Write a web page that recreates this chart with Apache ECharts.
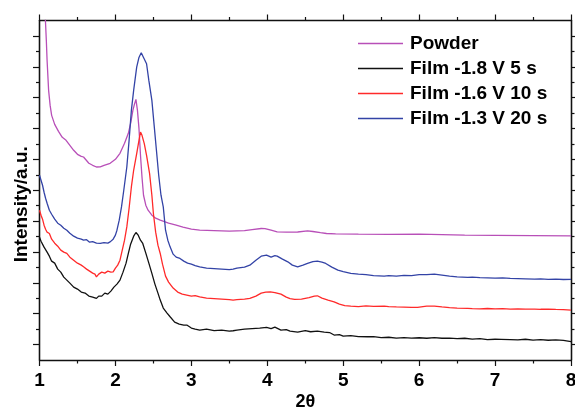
<!DOCTYPE html>
<html>
<head>
<meta charset="utf-8">
<script src="https://cdn.jsdelivr.net/npm/echarts@6/dist/echarts.min.js"></script>
<style>
html,body{margin:0;padding:0;background:#fff;}
#c{width:575px;height:407px;}
</style>
</head>
<body>
<div id="c"></div>
<script>
// ---- data (2θ, intensity in a.u.) ----
const seriesNames = ['Powder', 'Film -1.8 V 5 s', 'Film -1.6 V 10 s', 'Film -1.3 V 20 s'];
const xTicks = [1, 2, 3, 4, 5, 6, 7, 8];
const yMajorTicks = [1, 3, 5, 7, 9, 11, 13, 15, 17, 19, 21];
const yMinorTicks = [2, 4, 6, 8, 10, 12, 14, 16, 18, 20];

const powder = [
[1.075,345],[1.09,320],[1.10,300],[1.12,270],[1.14,255],[1.16,245],[1.20,236],[1.25,229],[1.30,223],[1.35,220],
[1.40,215],[1.45,210],[1.50,206],[1.55,204],[1.58,203.3],[1.65,197],[1.70,195],[1.75,193.3],[1.80,193.5],[1.85,195],
[1.93,197],[2.00,201],[2.06,207],[2.12,217],[2.17,227],[2.20,237],[2.23,250],[2.25,256],[2.27,261],[2.29,250],
[2.31,232],[2.33,205],[2.35,183],[2.37,165],[2.40,155],[2.43,150],[2.48,145],[2.53,142],[2.59,140],[2.70,137],
[2.80,135],[2.89,133],[3.00,131],[3.11,130],[3.30,129.5],[3.50,129],[3.70,129.5],[3.80,130.5],[3.92,131.7],[3.97,131.5],
[4.05,130],[4.13,128.3],[4.25,128],[4.40,128.2],[4.53,129.3],[4.60,128.7],[4.70,127.5],[4.78,126.7],[4.90,126.3],[5.20,126],
[5.60,125.8],[6.00,126],[6.30,125.5],[6.60,125],[7.00,124.8],[7.50,124.5],[8.00,124.3]
];

const film18 = [
[1.00,123],[1.02,119],[1.04,117],[1.06,113],[1.08,111],[1.10,108],[1.13,104],[1.16,99],[1.20,97],[1.24,91],
[1.28,88],[1.32,83],[1.36,80],[1.40,77],[1.45,73],[1.50,71],[1.55,68],[1.60,67],[1.65,64],[1.70,63],
[1.75,61.7],[1.78,64],[1.82,64],[1.86,67],[1.90,66],[1.94,69],[1.98,73],[2.02,76],[2.06,80],[2.10,88],
[2.14,97],[2.17,106.7],[2.20,116],[2.24,124],[2.27,127.7],[2.30,125],[2.33,120],[2.36,116.7],[2.40,107],[2.44,97],
[2.48,86.7],[2.52,76],[2.56,67],[2.59,60],[2.63,52],[2.68,47],[2.72,43.3],[2.78,38],[2.84,36],[2.90,35],
[2.94,35],[3.00,32],[3.05,31],[3.11,30],[3.20,31],[3.30,29.5],[3.40,30],[3.50,29],[3.55,29.3],[3.60,30],
[3.70,31],[3.80,31.5],[3.90,32],[3.99,32.7],[4.05,31.5],[4.10,33],[4.18,30],[4.25,30.5],[4.30,29],[4.40,28],
[4.50,29.5],[4.57,28.3],[4.66,29],[4.75,28],[4.82,27.5],[4.88,25],[4.95,25.5],[5.00,24],[5.10,24.5],[5.20,23.5],
[5.32,23.3],[5.40,23.5],[5.50,22.5],[5.60,22.8],[5.70,22],[5.80,22.5],[5.90,22],[6.00,22.3],[6.10,21.8],[6.20,22.5],
[6.30,21.8],[6.40,22],[6.50,21.5],[6.60,21.8],[6.70,21],[6.80,21.5],[6.90,20.5],[7.00,20.8],[7.08,20.7],[7.20,20.5],
[7.30,20.2],[7.40,20.8],[7.50,20],[7.60,20.4],[7.70,19.8],[7.80,20.2],[7.90,19.6],[8.00,18.3]
];

const film16 = [
[1.00,150],[1.02,145],[1.04,141],[1.06,135],[1.08,131],[1.10,128],[1.13,126.7],[1.16,121],[1.20,117],[1.24,114],
[1.28,110],[1.32,108],[1.36,106.7],[1.40,103],[1.45,100],[1.50,97],[1.55,95],[1.58,93.3],[1.62,91],[1.66,89],
[1.70,87],[1.73,86],[1.75,83.3],[1.78,86],[1.82,88],[1.86,87],[1.90,89],[1.94,88],[1.97,88.3],[2.00,92],
[2.03,95],[2.06,100],[2.09,110],[2.12,120],[2.15,133.3],[2.18,152],[2.21,173.3],[2.24,190],[2.28,206.7],[2.31,220],
[2.33,228.3],[2.35,225],[2.38,216.7],[2.41,205],[2.45,186.7],[2.48,165],[2.50,146.7],[2.53,128],[2.56,115],[2.59,106.7],
[2.62,96],[2.66,84],[2.70,78],[2.72,76.7],[2.76,72],[2.82,68],[2.88,66],[2.94,65],[3.00,64],[3.05,64.5],
[3.11,63.3],[3.20,62],[3.30,61.5],[3.40,61],[3.50,60.5],[3.55,60],[3.60,60.5],[3.70,61],[3.77,61.7],[3.85,64],
[3.92,67],[3.98,68],[4.04,68.3],[4.10,67.5],[4.18,66],[4.25,63],[4.30,61.5],[4.36,60.7],[4.45,61],[4.55,62.5],
[4.62,64],[4.66,64.3],[4.72,62],[4.80,60],[4.88,58.3],[4.95,56],[5.02,54.5],[5.10,54],[5.20,53.5],[5.30,54.2],
[5.40,53.8],[5.54,54],[5.60,53.5],[5.70,53.2],[5.80,53],[5.90,52.8],[5.98,52.7],[6.05,53.5],[6.10,54],[6.20,54],
[6.30,53.2],[6.40,52.5],[6.50,52],[6.64,51.7],[6.70,51.5],[6.80,51.3],[6.90,51.6],[7.00,51.2],[7.10,51.4],[7.20,51],
[7.30,51.3],[7.40,51],[7.52,51],[7.60,50.8],[7.70,51],[7.80,50.6],[7.90,50.5],[8.00,50]
];

const film13 = [
[1.00,185],[1.02,180],[1.04,175],[1.06,168],[1.08,162],[1.10,157],[1.13,150],[1.16,146],[1.20,141],[1.24,137],
[1.28,135],[1.32,132],[1.36,130],[1.40,127],[1.45,124],[1.50,122],[1.55,121],[1.58,120],[1.62,120.5],[1.66,118],
[1.70,118.5],[1.75,117],[1.80,116.7],[1.85,117.5],[1.90,117],[1.93,118.3],[1.97,121],[2.00,125],[2.02,130],[2.05,140],
[2.08,153.3],[2.11,170],[2.15,193.3],[2.18,220],[2.21,250],[2.24,270],[2.28,293.3],[2.31,303],[2.34,307.7],[2.37,303],
[2.41,296.7],[2.44,280],[2.48,260],[2.51,235],[2.54,210],[2.57,185],[2.60,165],[2.63,153.3],[2.66,130],[2.69,120],
[2.72,113.3],[2.76,106],[2.80,103],[2.85,101.7],[2.90,99],[2.95,97],[3.00,96],[3.05,94.5],[3.11,93.3],[3.20,92],
[3.30,91.5],[3.40,91],[3.50,90.5],[3.55,91],[3.60,92],[3.70,93],[3.77,95],[3.85,100],[3.92,104],[3.99,105],
[4.05,103],[4.10,104.5],[4.13,104],[4.20,101],[4.27,98.3],[4.33,95],[4.40,93.3],[4.47,95],[4.53,96.7],[4.60,98.5],
[4.66,99],[4.72,98],[4.77,96.7],[4.85,93],[4.93,90],[5.00,88.5],[5.10,86.7],[5.20,86],[5.30,85.5],[5.40,84.5],
[5.54,84],[5.60,84.5],[5.70,84],[5.80,84.8],[5.90,84.5],[6.00,85.5],[6.10,85.5],[6.20,86],[6.30,85],[6.40,84],
[6.50,83.2],[6.64,82.7],[6.70,83],[6.80,82.5],[6.90,82.3],[7.00,82],[7.10,82.2],[7.20,81.7],[7.30,81.5],[7.40,81.3],
[7.52,81],[7.60,81.2],[7.70,80.8],[7.80,81],[7.90,80.6],[8.00,80.7]
];

// ---- chart ----
const Y_MAX = 340;
const Y_STEP = Y_MAX / 22;
const FONT = '"Liberation Sans", Arial, sans-serif';
const colors = ['#b84fb8', '#111111', '#ff2a2a', '#3343a6'];
const axisLineStyle = { color: '#111', width: 1.3 };

const chart = echarts.init(document.getElementById('c'), null, { renderer: 'canvas' });

function xAx(pos, labels) {
  return {
    type: 'value', position: pos, min: xTicks[0], max: xTicks[xTicks.length - 1], interval: 1,
    axisLine: { show: true, onZero: false, lineStyle: axisLineStyle },
    axisTick: { show: true, length: 6, lineStyle: { color: '#111', width: 1.2 } },
    minorTick: { show: true, splitNumber: 2, length: 3.5, lineStyle: { color: '#111', width: 1.2 } },
    splitLine: { show: false }, minorSplitLine: { show: false },
    axisLabel: { show: labels, margin: 11, color: '#000', fontSize: 19, fontWeight: 'bold', fontFamily: FONT },
    name: labels ? '2θ' : '', nameLocation: 'middle', nameGap: 33, nameMoveOverlap: false,
    nameTextStyle: { color: '#000', fontSize: 18, fontWeight: 'bold', fontFamily: FONT }
  };
}
function yAx(pos, ticks, len, withName) {
  return {
    type: 'value', position: pos, min: 0, max: Y_MAX,
    axisLine: { show: true, onZero: false, lineStyle: axisLineStyle },
    axisTick: { show: true, length: len, customValues: ticks.map(k => k * Y_STEP), lineStyle: { color: '#111', width: 1.2 } },
    axisLabel: { show: false },
    splitLine: { show: false },
    name: withName ? 'Intensity/a.u.' : '', nameLocation: 'middle', nameGap: 8, nameMoveOverlap: false,
    nameTextStyle: { color: '#000', fontSize: 19, fontWeight: 'bold', fontFamily: FONT, padding: [0, 28, 0, 0] }
  };
}

const datasets = [powder, film18, film16, film13];

chart.setOption({
  animation: false,
  backgroundColor: '#fff',
  grid: { left: 39.5, right: 4, top: 20.5, bottom: 47, containLabel: false, outerBoundsMode: 'none' },
  legend: {
    orient: 'vertical', left: 353, top: 29, itemWidth: 45, itemHeight: 1.6, itemGap: 6,
    icon: 'rect',
    textStyle: { color: '#000', fontSize: 19, fontWeight: 'bold', fontFamily: FONT, padding: [0, 0, 0, 2] },
    data: seriesNames
  },
  xAxis: [xAx('bottom', true), xAx('top', false)],
  yAxis: [
    yAx('left', yMajorTicks, 6.5, true),
    yAx('right', yMajorTicks, 6.5, false),
    yAx('left', yMinorTicks, 3.5, false),
    yAx('right', yMinorTicks, 3.5, false)
  ],
  series: seriesNames.map((n, i) => ({
    name: n, type: 'line', data: datasets[i], xAxisIndex: 0, yAxisIndex: 0,
    symbol: 'none', clip: true, color: colors[i],
    lineStyle: { color: colors[i], width: 1.3 }
  }))
});
</script>
</body>
</html>
